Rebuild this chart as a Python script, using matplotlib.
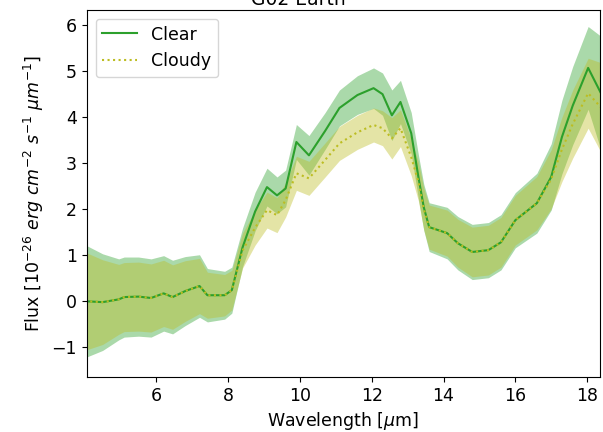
import numpy as np
import matplotlib.pyplot as plt

# wavelength grid [um]
wl = [4.0, 4.5, 4.95, 5.1, 5.5, 5.85, 6.2, 6.45, 6.8, 7.2, 7.42, 7.9, 8.1,
      8.4, 8.75, 9.08, 9.36, 9.6, 9.9, 10.25, 10.7, 11.1, 11.6, 12.05, 12.3,
      12.56, 12.8, 13.1, 13.3, 13.45, 13.6, 14.1, 14.4, 14.8, 15.25, 15.6,
      16.0, 16.6, 17.0, 17.3, 17.6, 18.03, 18.4]

clear = [0.0, -0.02, 0.04, 0.09, 0.1, 0.07, 0.17, 0.09, 0.22, 0.33, 0.13, 0.13, 0.24,
         1.17, 1.95, 2.48, 2.3, 2.45, 3.46, 3.17, 3.7, 4.2, 4.48, 4.63, 4.5,
         4.04, 4.33, 3.65, 2.7, 2.04, 1.61, 1.48, 1.26, 1.07, 1.11, 1.28,
         1.76, 2.13, 2.7, 3.57, 4.25, 5.07, 4.5]
clear_err = [1.23, 1.05, 0.88, 0.87, 0.86, 0.85, 0.82, 0.8, 0.75, 0.68, 0.58, 0.52, 0.5,
             0.42, 0.42, 0.41, 0.4, 0.4, 0.38, 0.43, 0.4, 0.39, 0.42, 0.44, 0.46,
             0.55, 0.47, 0.45, 0.48, 0.5, 0.53, 0.56, 0.58, 0.6, 0.6, 0.6,
             0.6, 0.65, 0.72, 0.8, 0.85, 0.9, 1.25]

cloudy = [0.0, -0.02, 0.04, 0.09, 0.1, 0.07, 0.17, 0.09, 0.22, 0.33, 0.13, 0.13, 0.24,
          1.1, 1.6, 1.98, 1.87, 2.2, 2.78, 2.67, 3.07, 3.43, 3.67, 3.83, 3.76,
          3.54, 3.76, 3.13, 2.6, 2.0, 1.61, 1.48, 1.26, 1.07, 1.11, 1.28,
          1.76, 2.13, 2.65, 3.3, 3.85, 4.52, 4.2]
cloudy_err = [1.07, 0.92, 0.76, 0.75, 0.75, 0.74, 0.72, 0.7, 0.66, 0.6, 0.5, 0.45, 0.43,
              0.38, 0.38, 0.39, 0.38, 0.37, 0.37, 0.37, 0.37, 0.37, 0.37, 0.37, 0.38,
              0.45, 0.4, 0.4, 0.42, 0.45, 0.48, 0.5, 0.52, 0.54, 0.54, 0.54,
              0.54, 0.58, 0.64, 0.7, 0.74, 0.76, 0.98]

wl = np.array(wl)
clear, clear_err = np.array(clear), np.array(clear_err)
cloudy, cloudy_err = np.array(cloudy), np.array(cloudy_err)

fig = plt.figure(figsize=(6.03, 4.32), dpi=100)
ax = fig.add_axes([0.144, 0.127, 0.851, 0.850])

ax.fill_between(wl, clear - clear_err, clear + clear_err, color='tab:green', alpha=0.4, lw=0)
ax.fill_between(wl, cloudy - cloudy_err, cloudy + cloudy_err, color='tab:olive', alpha=0.4, lw=0)
ax.plot(wl, clear, color='tab:green', lw=1.5, label='Clear')
ax.plot(wl, cloudy, color='tab:olive', lw=1.5, ls=':', label='Cloudy')

ax.set_xlim(4.06, 18.36)
ax.set_ylim(-1.65, 6.33)
ax.set_xticks([6, 8, 10, 12, 14, 16, 18])
ax.tick_params(labelsize=12.5)
ax.set_xlabel(r'Wavelength [$\mu$m]', fontsize=12.5)
ax.set_ylabel(r'Flux [$10^{-26}\ erg\ cm^{-2}\ s^{-1}\ \mu m^{-1}$]', fontsize=12.5)
ax.legend(loc='upper left', fontsize=12.5)

fig.text(0.494, 1 - 5 / 432, 'G02 Earth', ha='center', va='baseline', fontsize=13.5)

fig.savefig('out.png', dpi=100)
